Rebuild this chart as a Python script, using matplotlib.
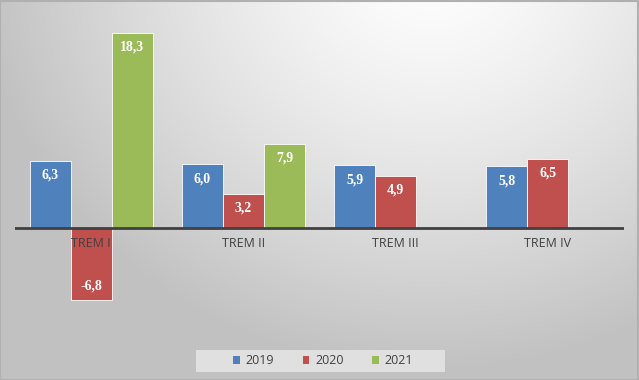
import numpy as np
import matplotlib
matplotlib.use("Agg")
import matplotlib.pyplot as plt
from matplotlib.patches import Patch, Rectangle

categories = ["TREM I", "TREM II", "TREM III", "TREM IV"]
series_names = ["2019", "2020", "2021"]
v2019 = [6.3, 6.0, 5.9, 5.8]
v2020 = [-6.8, 3.2, 4.9, 6.5]
v2021 = [18.3, 7.9, None, None]
colors = ["#4F81BD", "#C0504D", "#9BBB59"]

W, H = 639, 380
fig = plt.figure(figsize=(W / 100, H / 100), dpi=100)

# background gradient
bg = fig.add_axes([0, 0, 1, 1], zorder=-10)
yy, xx = np.mgrid[0:H, 0:W]
d = np.sqrt(((xx - 430) / 420.0) ** 2 + ((yy + 40) / 380.0) ** 2)
val = np.clip(1.0 - 0.22 * d ** 1.3, 0.76, 1.0)
img = np.dstack([val, val, val])
bg.imshow(img, extent=[0, W, H, 0], aspect="auto", interpolation="bilinear")
bg.set_xlim(0, W)
bg.set_ylim(H, 0)
bg.axis("off")
bg.plot([0, W - 1, W - 1, 0, 0], [0.5, 0.5, H - 0.5, H - 0.5, 0.5], color="#b0b0b0", lw=1.5)
bg.add_patch(Rectangle((196, 350), 249, 22, facecolor="#e6e6e6", edgecolor="none", alpha=0.85))

x0, x1 = 15, 624
ytop, ybot = 14.8, 334.6
ax = fig.add_axes([x0 / W, (H - ybot) / H, (x1 - x0) / W, (ybot - ytop) / H])
ax.patch.set_alpha(0)
ax.set_xlim(-0.5, 3.5)
ax.set_ylim(-10, 20)

bw = 41 / 152.25
offsets = [-bw, 0, bw]
all_vals = [v2019, v2020, v2021]
x = np.arange(len(categories))
for si, (vals, c) in enumerate(zip(all_vals, colors)):
    for ci, v in enumerate(vals):
        if v is None:
            continue
        xc = x[ci] + offsets[si]
        ax.bar(xc, v, width=bw, color=c, edgecolor="white", linewidth=0.6, zorder=2)
        txt = f"{v:.1f}".replace(".", ",")
        if v >= 0:
            ax.text(xc, v - 0.75, txt, ha="center", va="top", color="white",
                    fontsize=10, fontweight="bold", family="Liberation Serif", zorder=5)
        else:
            ax.text(xc, v + 0.75, txt, ha="center", va="bottom", color="white",
                    fontsize=10, fontweight="bold", family="Liberation Serif", zorder=5)

ax.axhline(0, color="#404040", lw=2, zorder=4)
for ci, name in enumerate(categories):
    ax.text(x[ci], -0.85, name, ha="center", va="top", color="#404040",
            fontsize=9, family="Open Sans", zorder=6)

for s in ax.spines.values():
    s.set_visible(False)
ax.set_xticks([])
ax.set_yticks([])

handles = [Patch(facecolor=c, edgecolor="none") for c in colors]
leg = fig.legend(handles, series_names, loc="center", bbox_to_anchor=(323 / W, 1 - 361 / H),
                 ncol=3, frameon=False, handlelength=0.55, handleheight=0.55,
                 handletextpad=0.45, columnspacing=2.3, borderpad=0.3,
                 prop={"family": "Open Sans", "size": 9})
for t in leg.get_texts():
    t.set_color("#404040")

fig.savefig("out.png", dpi=100)
